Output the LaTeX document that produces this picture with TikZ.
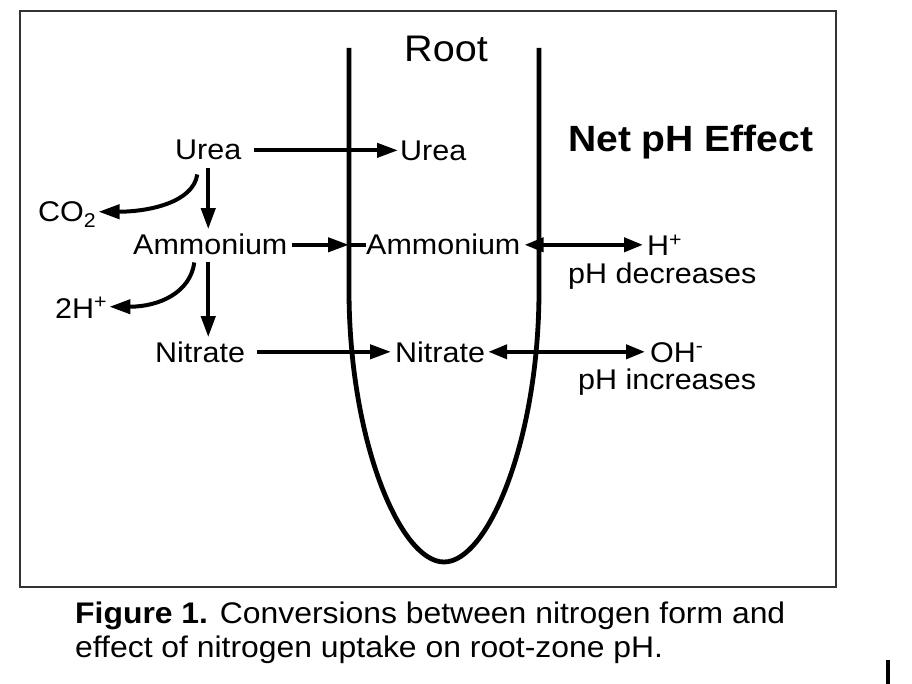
\documentclass[tikz,border=0pt]{standalone}
\usepackage{fontspec}
\setmainfont{Liberation Sans}[FakeStretch=1.07]
\usetikzlibrary{arrows.meta}
\begin{document}
\begin{tikzpicture}[x=1pt,y=-1pt,
  lbl/.style={inner sep=0pt, font=\fontsize{28.5}{34}\selectfont},
  caplbl/.style={inner sep=0pt, font=\fontsize{29.8}{36}\selectfont},
  arr/.style={line width=4pt, -{Triangle[length=21pt,width=14pt]}},
  darr/.style={line width=4pt, {Triangle[length=19pt,width=14pt]}-{Triangle[length=19pt,width=14pt]}},
  plainline/.style={line width=4pt},
  wall/.style={line width=4.8pt}]
\useasboundingbox (0,0) rectangle (912,684);
\fill[white] (0,0) rectangle (912,684);
\draw[line width=2pt, black!80] (20,11) rectangle (836,587);

% root outline
\coordinate (wl) at (349,48);
\coordinate (wr) at (539,48);
\draw[wall] (wl) -- (349,290) .. controls (349,440) and (400,562) .. (444,562)
  .. controls (488,562) and (539,440) .. (539,290) -- (wr);

\node[lbl, font=\fontsize{37}{44}\selectfont, anchor=base] (root) at (446,62) {Root};
\node[lbl, font=\bfseries\fontsize{36.5}{44}\selectfont, anchor=base west] (net) at (568,152) {Net pH Effect};

\node[lbl, anchor=base west] (ureaL) at (175,160) {Urea};
\node[lbl, anchor=base west] (ureaR) at (400,161) {Urea};
\node[lbl, anchor=base west] (co2) at (38,222) {CO\textsubscript{2}};
\node[lbl, anchor=base west] (amL) at (133,255) {Ammonium};
\node[lbl, anchor=base west] (amR) at (366,255) {Ammonium};
\node[lbl, anchor=base west] (hp) at (647,256) {H\textsuperscript{+}};
\node[lbl, anchor=base west] (dec) at (568,284) {pH decreases};
\node[lbl, anchor=base west] (h2) at (55,318) {2H\textsuperscript{+}};
\node[lbl, anchor=base west] (niL) at (155,362) {Nitrate};
\node[lbl, anchor=base west] (niR) at (395,362) {Nitrate};
\node[lbl, anchor=base west] (oh) at (650,362) {OH\textsuperscript{-}};
\node[lbl, anchor=base west] (inc) at (578,389) {pH increases};

\node[caplbl, anchor=base west] (cap1) at (75,623) {\textbf{Figure 1.} Conversions between nitrogen form and};
\node[caplbl, anchor=base west] (cap2) at (75,657) {effect of nitrogen uptake on root-zone pH.};

% connectors
\draw[arr, shorten <=12pt, shorten >=2pt] (ureaL.east) -- (ureaL.east -| ureaR.west);
\draw[arr, shorten <=8pt, shorten >=5pt] (ureaL.south) -- (ureaL.south |- amL.north);
\draw[arr, shorten <=7pt, shorten >=4pt] (amL.south -| ureaL.south) -- (ureaL.south |- niL.north);
\draw[arr, shorten <=4pt] (amL.east) -- (amL.east -| wl);
\draw[plainline] (amL.east -| wl) -- (amR.west);
\draw[arr, shorten <=12pt, shorten >=4pt] (niL.east) -- (niL.east -| niR.west);
\draw[darr, shorten <=4pt, shorten >=4pt] (amR.east) -- (amR.east -| hp.west);
\draw[darr, shorten <=3pt, shorten >=5pt] (niR.east) -- (niR.east -| oh.west);
\draw[arr] ([shift={(-11,14)}]ureaL.south) .. controls +(-4,28) and +(50,0) .. ([shift={(2,-3)}]co2.east);
\draw[arr] ([shift={(-16,7)}]amL.south) .. controls +(-4,30) and +(50,0) .. ([shift={(2,-1)}]h2.east);

\fill (886,660) rectangle (890,684);
\end{tikzpicture}
\end{document}
